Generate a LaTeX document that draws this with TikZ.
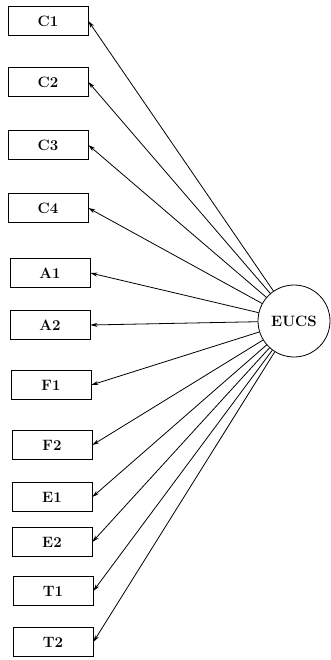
\documentclass[tikz,border=0pt]{standalone}
\usetikzlibrary{arrows.meta}

\tikzset{
  item/.style={draw, line width=0.7pt, minimum width=80pt, minimum height=29pt, inner sep=0pt,
    font=\fontsize{15}{17}\selectfont\bfseries},
  factor/.style={draw, circle, line width=0.8pt, minimum size=72pt, inner sep=0pt,
    font=\fontsize{15}{17}\selectfont\bfseries},
  load/.style={-{Stealth[length=7pt,width=4pt]}, line width=0.8pt}
}

\begin{document}
\begin{tikzpicture}[x=1pt,y=-1pt]

\useasboundingbox (0,0) rectangle (331,660);

% factor section
\node[factor] (eucs) at (294,321) {EUCS};

% indicator section
\node[item] (c1) at (48,21) {C1};
\node[item] (c2) at (48,82) {C2};
\node[item] (c3) at (48,145) {C3};
\node[item] (c4) at (48,208) {C4};
\node[item] (a1) at (50,273) {A1};
\node[item] (a2) at (50,325) {A2};
\node[item] (f1) at (51,385) {F1};
\node[item] (f2) at (52,445) {F2};
\node[item] (e1) at (52,497) {E1};
\node[item] (e2) at (52,542) {E2};
\node[item] (t1) at (53,591) {T1};
\node[item] (t2) at (53,642) {T2};

% loading section
\draw[load] (eucs) -- (c1.east);
\draw[load] (eucs) -- (c2.east);
\draw[load] (eucs) -- (c3.east);
\draw[load] (eucs) -- (c4.east);
\draw[load] (eucs) -- (a1.east);
\draw[load] (eucs) -- (a2.east);
\draw[load] (eucs) -- (f1.east);
\draw[load] (eucs) -- (f2.east);
\draw[load] (eucs) -- (e1.east);
\draw[load] (eucs) -- (e2.east);
\draw[load] (eucs) -- (t1.east);
\draw[load] (eucs) -- (t2.east);

\end{tikzpicture}
\end{document}
